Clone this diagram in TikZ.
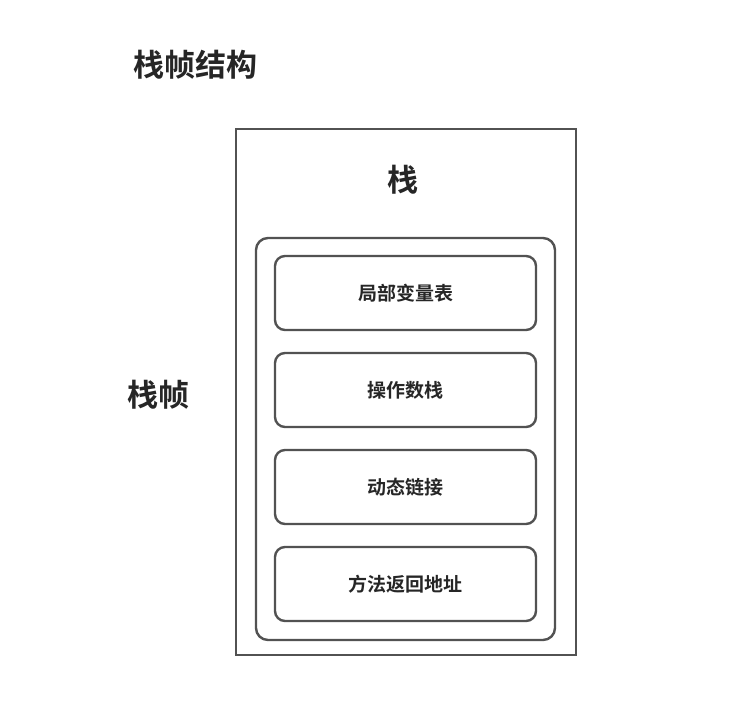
\documentclass[tikz,border=0pt]{standalone}
\usepackage{fontspec}
\newfontfamily\cjk{Noto Sans CJK SC Bold}
\begin{document}
\begin{tikzpicture}[x=1pt,y=-1pt,
  frame/.style={draw=black!68,line width=2.4pt},
  item/.style={frame,rounded corners=10pt,minimum width=261pt,minimum height=74pt,font=\cjk\fontsize{19}{22}\selectfont,text=black!85},
  lbl/.style={font=\cjk\fontsize{31}{36}\selectfont,text=black!85}]
\useasboundingbox (0,0) rectangle (755,728);
\node[frame,minimum width=340pt,minimum height=526pt,inner sep=0] (outer) at (406,392) {};
\node[frame,rounded corners=12pt,minimum width=299pt,minimum height=402pt,inner sep=0] (inner) at (405.5,439) {};
\node[item] (a) at (405.5,293) {局部变量表};
\node[item] (b) at (405.5,390) {操作数栈};
\node[item] (c) at (405.5,487) {动态链接};
\node[item] (d) at (405.5,584) {方法返回地址};
\node[lbl] (t) at (195,65) {栈帧结构};
\node[lbl] (s) at (403,180) {栈};
\node[lbl] (f) at (158,395) {栈帧};
\end{tikzpicture}
\end{document}
